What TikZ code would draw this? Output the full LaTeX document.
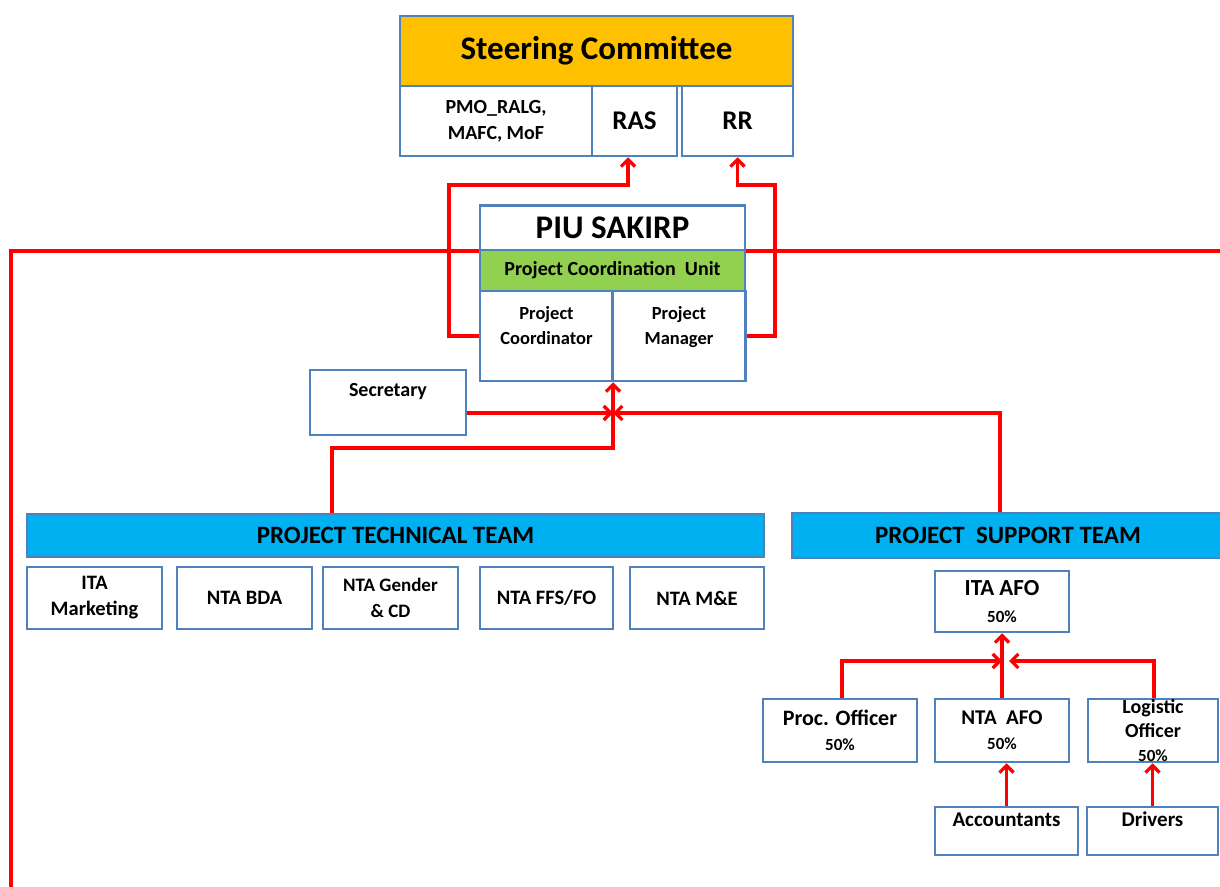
\documentclass[tikz,border=0pt]{standalone}
\usepackage{fontspec}
\setmainfont{Carlito}
\usetikzlibrary{arrows.meta}
\definecolor{boxblue}{HTML}{4F81BD}
\definecolor{scorange}{HTML}{FFC000}
\definecolor{pcugreen}{HTML}{92D050}
\definecolor{teamcyan}{HTML}{00B0F0}
\definecolor{linkred}{HTML}{FF0000}
\newcommand{\bsz}[2]{\fontsize{#1}{#2}\selectfont\bfseries}
\begin{document}
\begin{tikzpicture}[x=1pt,y=-1pt]
  \tikzset{
    box/.style={draw=boxblue,line width=2.5pt,fill=white,inner sep=0pt,align=center},
    link/.style={draw=linkred,line width=3.3pt},
    tip/.style={-{Straight Barb[length=7pt,width=14pt]}},
  }
  \useasboundingbox (0,0) rectangle (1220,886);

    %MAIN LINE
    \draw[link] (1230,251) -- (11,251) -- (11,890);

    %STEERING COMMITTEE
    \node[box,fill=scorange,minimum width=393pt,minimum height=70pt,font=\bsz{33}{38}] (sc) at (596.5,51) {Steering Committee};
    \node[box,minimum width=192pt,minimum height=70pt,font=\bsz{20}{26}] (pmo) at (496,121) {PMO\_RALG,\\MAFC, MoF};
    \node[box,minimum width=85pt,minimum height=70pt,font=\bsz{27}{32}] (ras) at (634.5,121) {RAS};
    \node[box,minimum width=111pt,minimum height=70pt,font=\bsz{27}{32}] (rr) at (737.5,121) {RR};

    %PIU SAKIRP
    \node[box,minimum width=265pt,minimum height=45pt,font=\bsz{33}{38}] (piu) at (612.5,228) {PIU SAKIRP};
    \node[box,fill=pcugreen,minimum width=265pt,minimum height=41pt,font=\bsz{20}{24}] (pcu) at (612.5,270.5) {Project Coordination\ \ Unit};
    \node[box,minimum width=133pt,minimum height=90pt,text depth=21pt,font=\bsz{18.5}{25}] (pcoord) at (546.5,336) {Project\\Coordinator};
    \node[box,minimum width=133pt,minimum height=90pt,text depth=21pt,font=\bsz{18.5}{25}] (pman) at (679,336) {Project\\Manager};
    \node[box,minimum width=156pt,minimum height=65pt,text depth=26pt,font=\bsz{20}{24}] (sec) at (388,402.5) {Secretary};

    %TEAMS
    \node[box,fill=teamcyan,minimum width=737pt,minimum height=43pt,font=\bsz{25}{28}] (ptt) at (395.5,535.5) {PROJECT TECHNICAL TEAM};
    \node[box,fill=teamcyan,minimum width=432pt,minimum height=45pt,font=\bsz{25}{28}] (pst) at (1008,535.5) {PROJECT\ \ SUPPORT TEAM};

    %TECHNICAL TEAM
    \node[box,minimum width=135pt,minimum height=62pt,font=\bsz{20.5}{26}] (mkt) at (94.5,598) {ITA\\Marketing};
    \node[box,minimum width=135pt,minimum height=62pt,font=\bsz{20.5}{26}] (bda) at (244.5,598) {NTA BDA};
    \node[box,minimum width=135pt,minimum height=62pt,font=\bsz{19}{26}] (gen) at (390.5,598) {NTA Gender\\\& CD};
    \node[box,minimum width=133pt,minimum height=62pt,font=\bsz{20.5}{26}] (ffs) at (546.5,598) {NTA FFS/FO};
    \node[box,minimum width=134pt,minimum height=62pt,font=\bsz{20.5}{26}] (mne) at (697,598) {NTA M\&E};

    %SUPPORT TEAM
    \node[box,minimum width=134pt,minimum height=61pt,font=\bsz{23}{27}] (itaafo) at (1002,601.5) {ITA AFO\\{\bsz{17}{20}50\%}};
    \node[box,minimum width=154pt,minimum height=63pt,font=\bsz{22}{25}] (proc) at (840,730.5) {Proc. Officer\\{\bsz{17}{20}50\%}};
    \node[box,minimum width=134pt,minimum height=63pt,font=\bsz{21}{25}] (nafo) at (1002,730.5) {NTA\ \ AFO\\{\bsz{17}{20}50\%}};
    \node[box,minimum width=130pt,minimum height=63pt,font=\bsz{20}{24}] (logi) at (1153,730.5) {Logistic\\Officer\\{\bsz{17}{20}50\%}};
    \node[box,minimum width=143pt,minimum height=48pt,text depth=23pt,font=\bsz{21}{25}] (acc) at (1006.5,831) {Accountants};
    \node[box,minimum width=131pt,minimum height=48pt,text depth=23pt,font=\bsz{21}{25}] (drv) at (1152.5,831) {Drivers};

    %LINKS UP
    \draw[link,tip] (pcoord.west) -| (449,185) -| ([xshift=-6.5pt]ras.south);
    \draw[link,tip] (pman.east) -| (775,185) -| (rr.south);

    \coordinate (jn) at (613,413);
    \draw[link,tip] ([xshift=-63.5pt]ptt.north) |- (613,448) -- (jn |- pcoord.south);
    \draw[link,tip] ([yshift=-10.5pt]sec.east) -- (jn);
    \draw[link,tip] ([xshift=-8pt]pst.north) |- (jn);

    \coordinate (jb) at (1002,661);
    \draw[link,tip] (nafo.north) -- (itaafo.south);
    \draw[link,tip] ([xshift=2pt]proc.north) |- (jb);
    \draw[link,tip] ([xshift=1pt]logi.north) |- ([xshift=7pt]jb);
    \foreach \a/\b in {acc/nafo,drv/logi} {
      \draw[link,tip] (\a.north) -- (\a.north |- \b.south);
    }
  \end{tikzpicture}
\end{document}
